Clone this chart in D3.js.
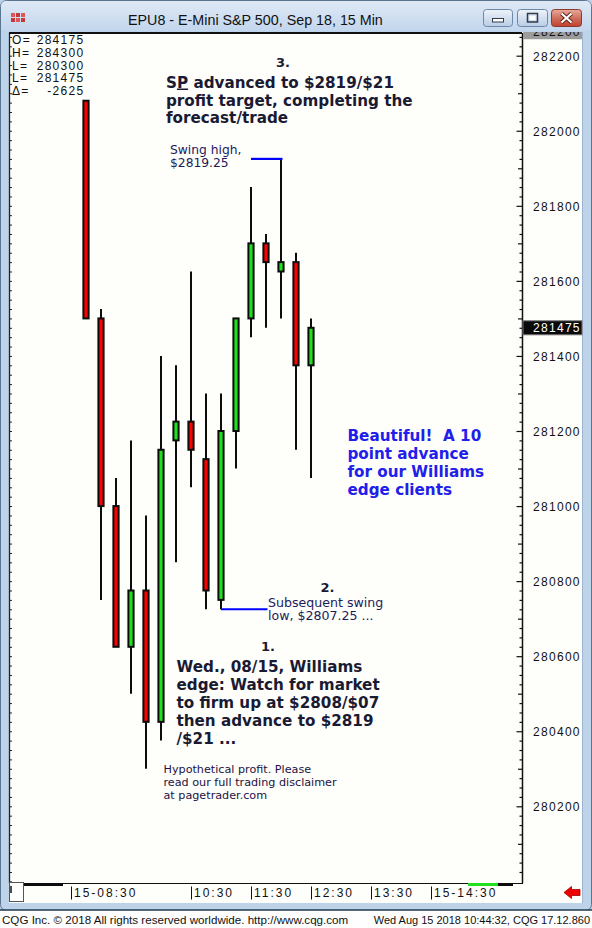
<!DOCTYPE html>
<html>
<head>
<meta charset="utf-8">
<title>EPU8 - E-Mini S&amp;P 500, Sep 18, 15 Min</title>
<script src="https://d3js.org/d3.v7.min.js"></script>
<style>
body { margin: 0; background: #bed3ea; }
svg { display: block; }
.ann { font-family: "DejaVu Sans", Verdana, sans-serif; font-weight: bold; font-size: 15.2px; fill: #1a1a33; }
.num { font-family: "DejaVu Sans", Verdana, sans-serif; font-weight: bold; font-size: 13px; fill: #1a1a33; }
.note { font-family: "DejaVu Sans", Verdana, sans-serif; font-size: 12.3px; fill: #1c1c5a; }
.small { font-family: "DejaVu Sans", Verdana, sans-serif; font-size: 11.2px; fill: #221144; }
.blue { font-family: "DejaVu Sans", Verdana, sans-serif; font-weight: bold; font-size: 15.2px; fill: #2020ea; }
.mono { font-family: "Liberation Sans", Arial, sans-serif; font-size: 12px; letter-spacing: 1.3px; fill: #111; }
.ui { font-family: "Liberation Sans", Arial, sans-serif; fill: #111; }
</style>
</head>
<body>
<script>
// 15 min bars, E-mini S&P (price x100)
var barTimes = ["08:45","09:00","09:15","09:30","09:45","10:00","10:15","10:30",
                "10:45","11:00","11:15","11:30","11:45","12:00","12:15","12:30"];
var opens  = [282080, 281500, 281000, 280625, 280775, 280425, 281175, 281225,
              281125, 280750, 281200, 281500, 281700, 281625, 281650, 281375];
var highs  = [282080, 281525, 281075, 281175, 280975, 281400, 281375, 281625,
              281300, 281300, 281500, 281850, 281725, 281925, 281675, 281500];
var lows   = [281500, 280750, 280625, 280500, 280300, 280375, 280850, 281050,
              280725, 280725, 281100, 281450, 281475, 281500, 281150, 281075];
var closes = [281500, 281000, 280625, 280775, 280425, 281150, 281225, 281150,
              280775, 281200, 281500, 281700, 281650, 281650, 281375, 281475];

var yLabels = [280200, 280400, 280600, 280800, 281000, 281200, 281400, 281600, 281800, 282000, 282200];
var xTickMins = ["08:30","10:30","11:30","12:30","13:30","14:30"];
var xTickLabels = ["15-08:30","10:30","11:30","12:30","13:30","15-14:30"];

var infoLabels = ["O=","H=","L=","L=","\u0394="];
var infoValues = ["284175","284300","280300","281475","-2625"];

// swing annotations: [bar from, bar to, price]
var swingHigh = [11, 13, 281925];
var swingLow = [9, 9, 280725];

function toMin(t) { var p = t.split(":"); return +p[0] * 60 + +p[1]; }

var W = 592, H = 928;
var plot = {left: 9, right: 522, top: 34, bottom: 883};

var svg = d3.select("body").append("svg").attr("width", W).attr("height", H);
var defs = svg.append("defs");

var tg = defs.append("linearGradient").attr("id", "tbar").attr("x1", 0).attr("y1", 0).attr("x2", 0).attr("y2", 1);
tg.append("stop").attr("offset", 0).attr("stop-color", "#dfe9f5");
tg.append("stop").attr("offset", 1).attr("stop-color", "#c2d6ed");
var bg = defs.append("linearGradient").attr("id", "btn").attr("x1", 0).attr("y1", 0).attr("x2", 0).attr("y2", 1);
bg.append("stop").attr("offset", 0).attr("stop-color", "#eef3fa");
bg.append("stop").attr("offset", 0.5).attr("stop-color", "#d3e0ef");
bg.append("stop").attr("offset", 1).attr("stop-color", "#b9cde5");
var cg = defs.append("linearGradient").attr("id", "cbtn").attr("x1", 0).attr("y1", 0).attr("x2", 0).attr("y2", 1);
cg.append("stop").attr("offset", 0).attr("stop-color", "#e9a99b");
cg.append("stop").attr("offset", 0.5).attr("stop-color", "#d0705e");
cg.append("stop").attr("offset", 1).attr("stop-color", "#c0402c");

defs.append("clipPath").attr("id", "plotclip").append("rect")
  .attr("x", plot.left).attr("y", plot.top)
  .attr("width", plot.right - plot.left).attr("height", plot.bottom - plot.top);
defs.append("clipPath").attr("id", "topbox").append("rect")
  .attr("x", 523).attr("y", 32).attr("width", 59).attr("height", 7.5);

// window frame
svg.append("rect").attr("x", 0.5).attr("y", 0.5).attr("width", W - 1).attr("height", 910)
  .attr("rx", 6).attr("fill", "#bdd3ea").attr("stroke", "#5a7590");
svg.append("rect").attr("x", 1).attr("y", 1).attr("width", W - 2).attr("height", 30)
  .attr("rx", 5).attr("fill", "url(#tbar)");

// title
svg.append("text").attr("class", "ui").attr("x", 128).attr("y", 25)
  .style("font-size", "14.3px").text("EPU8 - E-Mini S&P 500, Sep 18, 15 Min");

// app icon
var icon = svg.append("g");
[[11,13],[16,13],[21,13],[11,18],[16,18],[21,18]].forEach(function(p, i) {
  icon.append("rect").attr("x", p[0]).attr("y", p[1]).attr("width", 4).attr("height", 4)
    .attr("fill", i % 2 ? "#c43a3a" : "#e05656");
});

// window buttons
svg.append("rect").attr("x", 483.5).attr("y", 9.5).attr("width", 29).attr("height", 17)
  .attr("rx", 3).attr("fill", "url(#btn)").attr("stroke", "#6c88ab");
svg.append("rect").attr("x", 492.5).attr("y", 18.5).attr("width", 11).attr("height", 3.5)
  .attr("fill", "#fff").attr("stroke", "#333a48");
svg.append("rect").attr("x", 517.5).attr("y", 9.5).attr("width", 30).attr("height", 17)
  .attr("rx", 3).attr("fill", "url(#btn)").attr("stroke", "#6c88ab");
svg.append("rect").attr("x", 527.5).attr("y", 13.5).attr("width", 10).attr("height", 8.5)
  .attr("fill", "none").attr("stroke", "#333a48").attr("stroke-width", 1.5);
svg.append("rect").attr("x", 529.5).attr("y", 16).attr("width", 6).attr("height", 4).attr("fill", "#fff");
svg.append("rect").attr("x", 551.5).attr("y", 9.5).attr("width", 30).attr("height", 17)
  .attr("rx", 3).attr("fill", "url(#cbtn)").attr("stroke", "#8a3a2e");
svg.append("path").attr("d", "M561.5,13.5 L571.5,22.5 M571.5,13.5 L561.5,22.5")
  .attr("stroke", "#5a2018").attr("stroke-width", 4);
svg.append("path").attr("d", "M561.5,13.5 L571.5,22.5 M571.5,13.5 L561.5,22.5")
  .attr("stroke", "#fff").attr("stroke-width", 2.2);

// chart client area
svg.append("rect").attr("x", plot.left).attr("y", 32).attr("width", 583 - plot.left).attr("height", 871)
  .attr("fill", "#fefefb");
svg.append("line").attr("x1", 582.5).attr("x2", 582.5).attr("y1", 32).attr("y2", 903)
  .attr("stroke", "#9fb6cf");

// status bar
svg.append("rect").attr("x", 0).attr("y", 910).attr("width", W).attr("height", 18).attr("fill", "#fefefe");
svg.append("line").attr("x1", 0).attr("x2", W).attr("y1", 910).attr("y2", 910)
  .attr("stroke", "#1e3a4a").attr("stroke-width", 1.5);
svg.append("text").attr("class", "ui").attr("x", 2).attr("y", 923.5).style("font-size", "11.6px")
  .text("CQG Inc. \u00a9 2018 All rights reserved worldwide. http://www.cqg.com");
svg.append("text").attr("class", "ui").attr("x", 590).attr("y", 923.5).attr("text-anchor", "end")
  .style("font-size", "11px").text("Wed Aug 15 2018 10:44:32, CQG 17.12.860");

// scales
var y = d3.scaleLinear().domain([280200, 282200]).range([806.3, 55.7]);
var x = d3.scaleLinear().domain([toMin("08:30"), toMin("14:30")]).range([71, 431]);

var pMin = Math.ceil(y.invert(plot.bottom) / 25) * 25;
var pMax = Math.floor(y.invert(plot.top) / 25) * 25;
var minor = d3.range(pMin, pMax + 1, 25);

// right price axis
var ra = svg.append("g").attr("transform", "translate(" + plot.right + ",0)");
ra.append("g").call(d3.axisRight(y).tickValues(minor.filter(function(v) { return v % 100; }))
  .tickSize(-2.5).tickSizeOuter(0).tickFormat(""));
ra.append("g").call(d3.axisRight(y).tickValues(minor.filter(function(v) { return v % 100 === 0 && v % 200; }))
  .tickSize(-4).tickSizeOuter(0).tickFormat(""));
ra.append("g").call(d3.axisRight(y).tickValues(yLabels).tickSize(-5.5).tickSizeOuter(0).tickPadding(11)
  .tickFormat(d3.format("d")));
ra.selectAll(".domain").remove();
ra.selectAll("line").attr("stroke", "#111").attr("stroke-width", 1.2);
ra.selectAll("text").attr("class", "mono").attr("fill", null).attr("dy", "0.36em")
  .style("font-family", null).style("font-size", null);
ra.attr("font-family", null).attr("font-size", null);
svg.append("line").attr("x1", plot.right + 0.5).attr("x2", plot.right + 0.5)
  .attr("y1", plot.top - 1).attr("y2", plot.bottom).attr("stroke", "#111").attr("stroke-width", 1.5);

// left axis (ticks only)
var la = svg.append("g").attr("transform", "translate(" + plot.left + ",0)")
  .call(d3.axisLeft(y).tickValues(minor).tickSize(-3).tickSizeOuter(0).tickFormat(""));
la.select(".domain").remove();
la.selectAll("line").attr("stroke", "#222");
svg.append("line").attr("x1", plot.left + 0.5).attr("x2", plot.left + 0.5)
  .attr("y1", plot.top - 1).attr("y2", plot.bottom).attr("stroke", "#222").attr("stroke-width", 1.3);

// top border
svg.append("line").attr("x1", plot.left).attr("x2", plot.right).attr("y1", 33).attr("y2", 33)
  .attr("stroke", "#111").attr("stroke-width", 2);

// clipped top label box
var tb = svg.append("g").attr("clip-path", "url(#topbox)");
tb.append("rect").attr("x", 523).attr("y", 32).attr("width", 59).attr("height", 7.5).attr("fill", "#9c9c9c");
tb.append("text").attr("class", "mono").attr("x", 533).attr("y", 35.5).text(d3.format("d")(yLabels[yLabels.length - 1]));

// last price box
var last = closes[closes.length - 1];
svg.append("rect").attr("x", 523).attr("y", y(last) - 7).attr("width", 59).attr("height", 14)
  .attr("fill", "#0a0a0a").attr("stroke", "#777");
svg.append("text").attr("class", "mono").attr("x", 533).attr("y", y(last)).attr("dy", "0.36em")
  .attr("fill", "#fff").style("fill", "#fff").text(d3.format("d")(last));

// candles
var bars = barTimes.map(function(t, i) {
  return {t: toMin(t), o: opens[i], h: highs[i], l: lows[i], c: closes[i]};
});
var cg2 = svg.append("g").attr("clip-path", "url(#plotclip)");
var cs = cg2.selectAll("g.c").data(bars).enter().append("g").attr("class", "c");
cs.append("line")
  .attr("x1", function(d) { return x(d.t); }).attr("x2", function(d) { return x(d.t); })
  .attr("y1", function(d) { return y(d.h); }).attr("y2", function(d) { return y(d.l); })
  .attr("stroke", "#0c0c0c").attr("stroke-width", 2);
cs.append("rect")
  .attr("x", function(d) { return x(d.t) - 2.6; })
  .attr("width", 5.2)
  .attr("y", function(d) { return y(Math.max(d.o, d.c)); })
  .attr("height", function(d) { return Math.max(1, y(Math.min(d.o, d.c)) - y(Math.max(d.o, d.c))); })
  .attr("fill", function(d) { return d.c >= d.o ? "#22e01e" : "#ff0000"; })
  .attr("stroke", "#0c0c0c").attr("stroke-width", 2);

// swing lines
function swingLine(s, x2) {
  svg.append("line")
    .attr("x1", x(toMin(barTimes[s[0]]))).attr("x2", x2 !== undefined ? x2 : x(toMin(barTimes[s[1]])) + 1.5)
    .attr("y1", y(s[2])).attr("y2", y(s[2]))
    .attr("stroke", "#0000ff").attr("stroke-width", 2.2);
}
swingLine(swingHigh);
swingLine(swingLow, 267.5);

// bottom time axis
var bx = svg.append("g").attr("transform", "translate(0,886.5)")
  .call(d3.axisBottom(x).tickValues(xTickMins.map(toMin)).tickSize(13).tickSizeOuter(0)
    .tickFormat(function(d, i) { return xTickLabels[i]; }));
bx.select(".domain").remove();
bx.selectAll("line").attr("stroke", "#111");
bx.selectAll("text").attr("class", "mono").attr("fill", null).attr("text-anchor", "start")
  .attr("x", 2.5).attr("y", 10.5).attr("dy", null).style("letter-spacing", "2px");
bx.attr("font-family", null).attr("font-size", null);

// plot bottom line + scroll bar
svg.append("line").attr("x1", plot.left).attr("x2", plot.right + 1).attr("y1", plot.bottom + 0.5).attr("y2", plot.bottom + 0.5)
  .attr("stroke", "#111").attr("stroke-width", 1.2);
svg.append("rect").attr("x", 23).attr("y", 883).attr("width", 40).attr("height", 3).attr("fill", "#0c0c0c");
svg.append("rect").attr("x", 468).attr("y", 883).attr("width", 30).attr("height", 3).attr("fill", "#22e01e");
svg.append("rect").attr("x", 498).attr("y", 883).attr("width", 15).attr("height", 3).attr("fill", "#0c0c0c");
svg.append("rect").attr("x", 9.5).attr("y", 882.5).attr("width", 14).attr("height", 19).attr("fill", "#fff").attr("stroke", "#555");
svg.append("line").attr("x1", 11).attr("x2", 11).attr("y1", 886).attr("y2", 893).attr("stroke", "#111").attr("stroke-width", 1.5);

// red arrow
svg.append("path").attr("d", "M564,892.5 L571.5,886.5 L571.5,889.5 L580,889.5 L580,895.5 L571.5,895.5 L571.5,898.5 Z")
  .attr("fill", "#f00000").attr("stroke", "#a00000").attr("stroke-width", 0.8);

// info box
var info = svg.append("g");
infoLabels.forEach(function(l, i) {
  info.append("text").attr("class", "mono").attr("x", 12).attr("y", 44 + i * 12.75).text(l);
  info.append("text").attr("class", "mono").attr("x", 84.5).attr("y", 44 + i * 12.75)
    .attr("text-anchor", "end").text(infoValues[i]);
});

// annotations
function lines(cls, x0, y0, dy, arr) {
  var t = svg.append("text").attr("class", cls);
  arr.forEach(function(s, i) {
    t.append("tspan").attr("x", x0).attr("y", y0 + i * dy).text(s);
  });
  return t;
}
svg.append("text").attr("class", "num").attr("x", 276).attr("y", 67).text("3.");
var t3 = svg.append("text").attr("class", "ann");
var l1 = t3.append("tspan").attr("x", 166).attr("y", 87.5);
l1.append("tspan").text("S");
l1.append("tspan").style("text-decoration", "underline").text("P");
l1.append("tspan").text(" advanced to $2819/$21");
t3.append("tspan").attr("x", 166).attr("y", 105.5).text("profit target, completing the");
t3.append("tspan").attr("x", 166).attr("y", 123.3).text("forecast/trade");

lines("note", 170, 154, 13.3, ["Swing high,", "$2819.25"]);

svg.append("text").attr("class", "num").attr("x", 320.5).attr("y", 591.5).text("2.");
lines("note", 268, 606.7, 13.7, ["Subsequent swing", "low, $2807.25 ..."]).style("font-size", "12.6px");

svg.append("text").attr("class", "num").attr("x", 261).attr("y", 650.7).text("1.");
lines("ann", 176.5, 672.3, 17.85, ["Wed., 08/15, Williams", "edge: Watch for market",
  "to firm up at $2808/$07", "then advance to $2819", "/$21 ..."]);

lines("blue", 347.5, 441, 18, ["Beautiful!\u00a0 A 10", "point advance", "for our Williams", "edge clients"]);

lines("small", 163.5, 773.3, 12.9, ["Hypothetical profit. Please", "read our full trading disclaimer", "at pagetrader.com"]);
</script>
</body>
</html>
